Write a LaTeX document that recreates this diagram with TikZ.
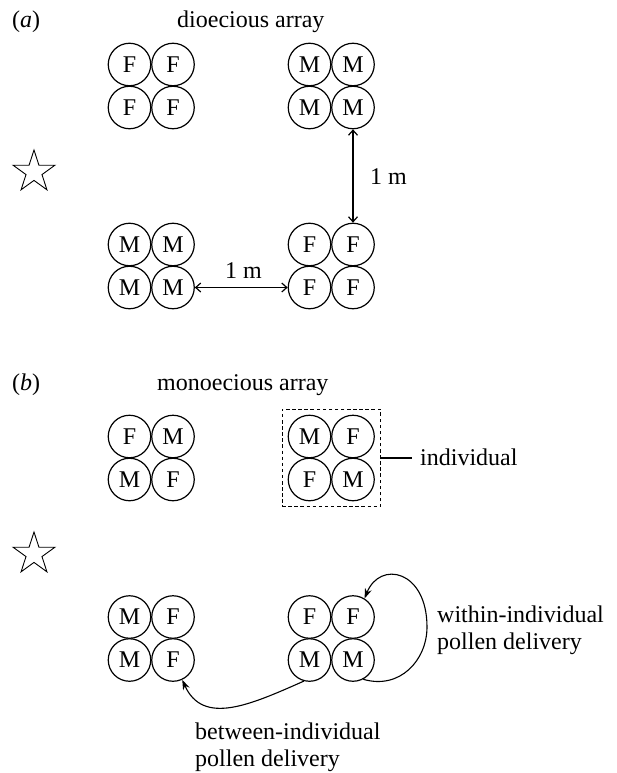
\documentclass[tikz,border=0pt]{standalone}
\usepackage{fontspec}
\setmainfont{Liberation Serif}
\usetikzlibrary{arrows.meta,fit}

\begin{document}
\begin{tikzpicture}[x=1pt,y=-1pt,
  every node/.style={font=\fontsize{24}{27}\selectfont},
  flower/.style={circle,draw,line width=1.2pt,minimum size=42.5pt,inner sep=0pt},
  txt/.style={anchor=base west,inner sep=0pt},
  dist/.style={line width=1.2pt,{Straight Barb[length=5pt,width=9pt]}-{Straight Barb[length=5pt,width=9pt]}},
  flow/.style={line width=1.1pt,-{Stealth[length=10pt,width=7pt]}},
  outline/.style={line width=0.9pt}]
\useasboundingbox (0,0) rectangle (616,773);

% four plants of a 2x2 block: #1 name, #2 x, #3 y, #4--#7 sexes
\newcommand\plantblock[7]{%
  \node[flower] (#1-11) at (#2,#3) {#4};
  \node[flower] (#1-12) at (#2+43.5,#3) {#5};
  \node[flower] (#1-21) at (#2,#3+43) {#6};
  \node[flower] (#1-22) at (#2+43.5,#3+43) {#7};}

% five-pointed outline star centred at (#1,#2)
\newcommand\outlinestar[2]{%
  \draw[outline,shift={(#1,#2)}] (-90:22)
    \foreach \k in {1,...,9} { -- ({-90+36*\k}:{mod(\k,2)==1 ? 8.4 : 22}) } -- cycle;}

% ---------- (a) dioecious array ----------
\node[txt] (lbla) at (12,28) {(\textit{a})};
\node[txt] (titlea) at (177,28) {dioecious array};

\plantblock{A}{129.5}{64.5}{F}{F}{F}{F}
\plantblock{B}{309.5}{64.5}{M}{M}{M}{M}
\plantblock{C}{129.5}{244.5}{M}{M}{M}{M}
\plantblock{D}{309.5}{244.5}{F}{F}{F}{F}

\outlinestar{34}{172}

\draw[dist] (B-22.south) -- (D-12.north);
\node[txt] (dv) at (370,184) {1 m};
\draw[dist] (C-22.east) -- (D-21.west);
\node[txt] (dh) at (225,278) {1 m};

% ---------- (b) monoecious array ----------
\node[txt] (lblb) at (12,390) {(\textit{b})};
\node[txt] (titleb) at (157,390) {monoecious array};

\plantblock{E}{129.5}{436.5}{F}{M}{M}{F}
\plantblock{G}{309.5}{436.5}{M}{F}{F}{M}

\node[draw,line width=1.1pt,dash pattern=on 3.5pt off 2.6pt,fit=(G-11)(G-22),inner sep=5.5pt] (indiv) {};
\node[anchor=west,inner sep=0pt] (indlbl) at (420,457) {individual};
\draw[line width=1.1pt] (indiv.east) -- ([xshift=-8pt]indlbl.west |- indiv.east);

\outlinestar{34}{554}

\plantblock{H}{129.5}{617}{M}{F}{M}{F}
\plantblock{K}{309.5}{617}{F}{F}{M}{M}

% pollen moved inside one individual
\draw[flow] (K-22.-62) .. controls (400,690) and (427,660) .. (427,627)
  .. controls (427,570) and (380,560) .. (K-12.58);
\node[txt] (win1) at (437,622) {within-individual};
\node[txt] (win2) at (437,649) {pollen delivery};

% pollen moved between individuals
\draw[flow] (K-21.-105) .. controls (250,705) and (203,726) .. (H-22.-65);
\node[txt] (bet1) at (195,739) {between-individual};
\node[txt] (bet2) at (195,766) {pollen delivery};
\end{tikzpicture}
\end{document}
